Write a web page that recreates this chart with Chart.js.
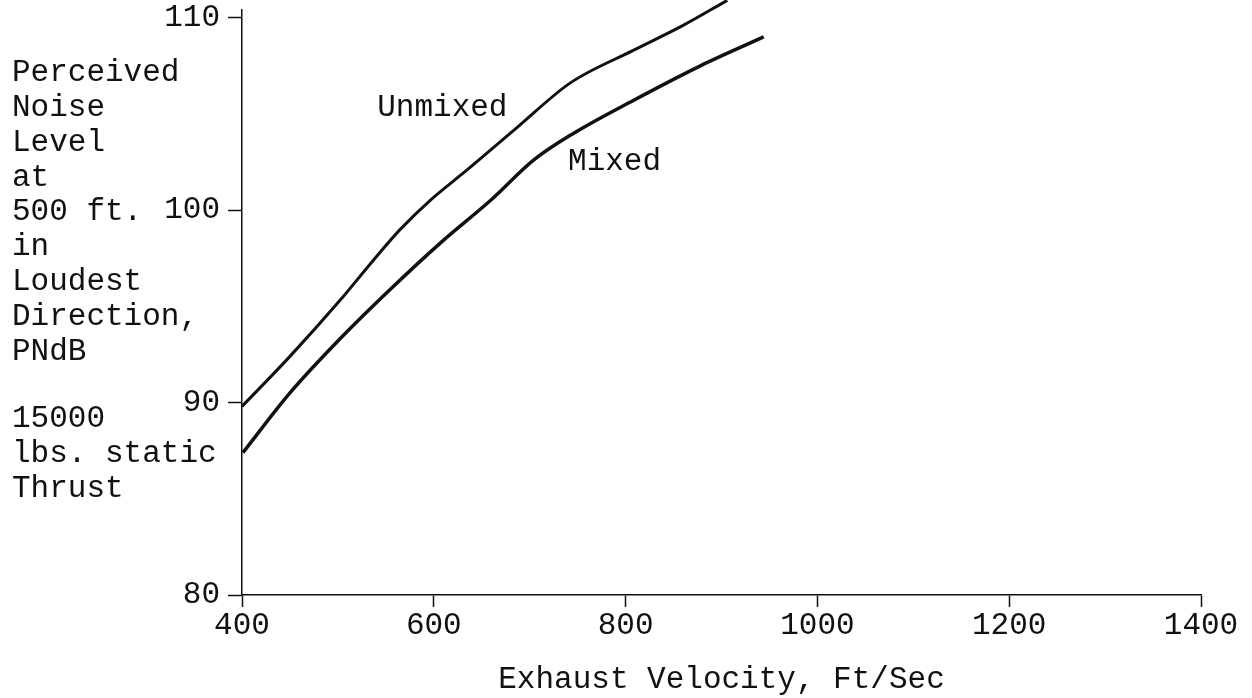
<!DOCTYPE html>
<html>
<head>
<meta charset="utf-8">
<script src="https://cdn.jsdelivr.net/npm/chart.js@4.4.1/dist/chart.umd.min.js"></script>
<style>
    html, body { margin: 0; padding: 0; background: #fff; }
    #wrap { width: 1252px; height: 698px; position: relative; }
</style>
</head>
<body>
<div id="wrap"><canvas id="noise-chart" width="1252" height="698"></canvas></div>
<script>
// Perceived noise vs exhaust velocity
const velocityUnmixed = [400, 450, 502, 537, 565, 596, 635, 687, 742, 808, 860, 906];
const noiseUnmixed    = [89.8, 92.4, 95.3, 97.4, 99.0, 100.5, 102.1, 104.3, 106.6, 108.3, 109.6, 110.9];

const velocityMixed = [401, 450, 502, 555, 607, 659, 704, 746, 808, 878, 944];
const noiseMixed    = [87.4, 90.5, 93.3, 95.9, 98.3, 100.5, 102.6, 104.0, 105.7, 107.5, 109.0];

const xTicks = [400, 600, 800, 1000, 1200, 1400];
const yTicks = [80, 90, 100, 110];

const yTitleLines = ['Perceived', 'Noise', 'Level', 'at', '500 ft.', 'in', 'Loudest', 'Direction,', 'PNdB', '', '15000', 'lbs. static', 'Thrust'];
const xTitle = 'Exhaust Velocity, Ft/Sec';

const ink = '#111';
const fontFamily = '"Liberation Mono", "DejaVu Sans Mono", monospace';
const fontSize = 31;

function toPoints(xs, ys) {
    return xs.map((x, i) => ({ x: x, y: ys[i] }));
}

// drop the automatic label padding so the plot area sits where the original does
function noPadding(axis) {
    axis.paddingTop = 0;
    axis.paddingBottom = 0;
    axis.paddingLeft = 0;
    axis.paddingRight = 0;
}

// Left-hand multi-line axis label and the curve names
const textPlugin = {
    id: 'textPlugin',
    afterDraw(chart) {
        const ctx = chart.ctx;
        const xs = chart.scales.x;
        const ys = chart.scales.y;
        ctx.save();
        ctx.fillStyle = ink;
        ctx.font = fontSize + 'px ' + fontFamily;
        ctx.textAlign = 'left';
        ctx.textBaseline = 'middle';

        let y = 73;
        yTitleLines.forEach((line, i) => {
            if (line) ctx.fillText(line, 12, y);
            y += (i === 9) ? 33 : 34.8;
        });

        ctx.fillText('Unmixed', xs.getPixelForValue(541), ys.getPixelForValue(105.3));
        ctx.fillText('Mixed', xs.getPixelForValue(740), ys.getPixelForValue(102.5));
        ctx.restore();
    }
};

const ctx = document.getElementById('noise-chart').getContext('2d');

new Chart(ctx, {
    type: 'scatter',
    data: {
        datasets: [
            {
                label: 'Unmixed',
                data: toPoints(velocityUnmixed, noiseUnmixed),
                showLine: true,
                borderColor: ink,
                borderWidth: 3,
                pointRadius: 0,
                cubicInterpolationMode: 'monotone',
                clip: false
            },
            {
                label: 'Mixed',
                data: toPoints(velocityMixed, noiseMixed),
                showLine: true,
                borderColor: ink,
                borderWidth: 3.5,
                pointRadius: 0,
                cubicInterpolationMode: 'monotone',
                clip: false
            }
        ]
    },
    options: {
        responsive: false,
        animation: false,
        layout: {
            padding: { top: 10, right: 51, bottom: 0, left: 0 }
        },
        plugins: {
            legend: { display: false },
            tooltip: { enabled: false }
        },
        scales: {
            x: {
                type: 'linear',
                min: 400,
                max: 1400,
                afterBuildTicks: axis => { axis.ticks = xTicks.map(v => ({ value: v })); },
                afterFit: axis => { axis.height = 103; noPadding(axis); },
                border: { display: true, color: ink, width: 1.5 },
                grid: {
                    drawOnChartArea: false,
                    drawTicks: true,
                    tickLength: 12,
                    tickColor: ink,
                    tickWidth: 1.5
                },
                ticks: {
                    color: ink,
                    padding: 0,
                    maxRotation: 0,
                    callback: v => String(v),
                    font: { family: fontFamily, size: fontSize }
                },
                title: {
                    display: true,
                    text: xTitle,
                    color: ink,
                    padding: { top: 0, bottom: 0 },
                    font: { family: fontFamily, size: fontSize }
                }
            },
            y: {
                type: 'linear',
                min: 80,
                max: 110.4,
                afterBuildTicks: axis => { axis.ticks = yTicks.map(v => ({ value: v })); },
                afterFit: axis => { axis.width = 242; noPadding(axis); },
                border: { display: true, color: ink, width: 1.5 },
                grid: {
                    drawOnChartArea: false,
                    drawTicks: true,
                    tickLength: 14,
                    tickColor: ink,
                    tickWidth: 1.5
                },
                ticks: {
                    color: ink,
                    padding: 8,
                    callback: v => String(v),
                    font: { family: fontFamily, size: fontSize }
                }
            }
        }
    },
    plugins: [textPlugin]
});
</script>
</body>
</html>
